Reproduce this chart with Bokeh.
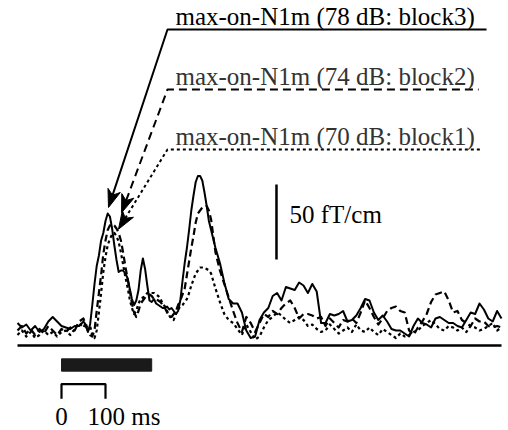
import math
from bokeh.plotting import figure
from bokeh.models import Range1d, Label
from bokeh.embed import file_html
from bokeh.resources import INLINE

# ---------------- data (time in ms, amplitude in fT/cm) ----------------
time_ms = list(range(-100, 51, 10)) + list(range(55, 351, 5)) + list(range(360, 1001, 10))

block3_78dB = [
    15, 12, 14, 10, 13, 9, 11, 16, 19, 16, 13, 12, 11, 13, 13, 16,
    14, 9, 14, 27, 41, 53, 60, 70, 75, 83,
    88, 86, 78, 67, 57, 49, 50, 50, 48, 45,
    38, 31, 27, 30, 37, 50, 58, 51, 40, 30,
    29, 31, 28, 27, 26, 25, 25, 26, 24, 25,
    23, 21, 23, 30, 43, 55, 65, 77, 90, 100,
    109, 113, 113, 110, 102, 93, 83, 77, 71, 65,
    55, 42, 31, 28, 28, 22, 10, 5, 6, 17,
    22, 25, 33, 35, 30, 39, 38, 37, 42, 40,
    35, 41, 36, 15, 15, 21, 20, 21, 23, 16,
    17, 20, 25, 31, 30, 22, 17, 20, 16, 11,
    10, 10, 8, 6, 13, 18, 15, 14, 12, 18,
    19, 17, 15, 15, 13, 12, 17, 22, 21, 28,
    24, 18, 16, 23, 18,
]

block2_74dB = [
    10, 13, 8, 11, 7, 11, 8, 13, 10, 7, 11, 9, 12, 10, 16, 18,
    13, 10, 7, 6, 10, 23, 35, 47, 61, 70,
    77, 80, 81, 80, 78, 75, 70, 62, 53, 45,
    37, 28, 22, 19, 23, 28, 30, 32, 34, 34,
    33, 31, 31, 30, 29, 27, 25, 22, 19, 19,
    21, 23, 27, 30, 34, 38, 47, 56, 65, 73,
    82, 88, 90, 92, 93, 93, 90, 84, 73, 62,
    50, 41, 32, 23, 15, 9, 19, 15, 9, 15,
    21, 19, 23, 21, 25, 28, 30, 25, 18, 21,
    21, 20, 18, 19, 13, 18, 15, 12, 17, 16,
    18, 15, 22, 30, 25, 19, 14, 18, 23, 25,
    26, 23, 22, 10, 7, 12, 16, 21, 29, 34,
    35, 36, 30, 22, 23, 17, 15, 13, 18, 16,
    16, 13, 12, 13, 12,
]

block1_70dB = [
    7, 10, 6, 9, 5, 7, 10, 7, 9, 6, 9, 10, 7, 11, 15, 12,
    15, 10, 13, 7, 5, 10, 22, 35, 49, 59,
    67, 71, 74, 75, 73, 69, 62, 54, 46, 39,
    31, 25, 21, 23, 28, 31, 32, 33, 35, 35,
    35, 35, 34, 33, 31, 28, 26, 23, 20, 18,
    17, 21, 24, 26, 27, 29, 31, 35, 40, 44,
    48, 50, 52, 52, 52, 51, 50, 48, 43, 38,
    29, 21, 17, 15, 11, 7, 14, 9, 4, 6,
    12, 17, 19, 22, 20, 17, 15, 17, 19, 17,
    13, 14, 11, 9, 10, 14, 11, 8, 10, 12,
    9, 14, 10, 9, 12, 9, 7, 11, 9, 7,
    5, 8, 6, 7, 9, 10, 13, 15, 17, 14,
    11, 10, 13, 12, 10, 12, 9, 13, 12, 10,
    11, 13, 15, 10, 12,
]

series_labels = ["max-on-N1m (78 dB: block3)",
                 "max-on-N1m (74 dB: block2)",
                 "max-on-N1m (70 dB: block1)"]
stimulus_ms = [0, 205]
amp_scale_fT = 50
time_scale_ms = 100

assert len(time_ms) == len(block3_78dB) == len(block2_74dB) == len(block1_70dB)

# ---------------- figure ----------------
W, H = 508, 430
XR = (-138.64, 1015.9)
YR = (-56.67, 230.0)
SX = W / (XR[1] - XR[0])   # px per ms
SY = H / (YR[1] - YR[0])   # px per fT/cm

p = figure(width=W, height=H, output_backend="svg", toolbar_location=None,
           x_range=Range1d(*XR), y_range=Range1d(*YR),
           x_axis_location=None, y_axis_location=None, min_border=0)
p.grid.visible = False
p.outline_line_color = None
p.background_fill_color = "white"
p.border_fill_color = "white"

FONT = "Liberation Serif"
FS = "25px"

# baseline
p.line(x=[time_ms[0], time_ms[-1]], y=[0, 0], line_color="black", line_width=2.5)

# waveforms
p.line(x=time_ms, y=block1_70dB, line_color="black", line_width=2.2, line_dash="3 3", line_join="round")
p.line(x=time_ms, y=block2_74dB, line_color="black", line_width=2.2, line_dash="7 4", line_join="round")
p.line(x=time_ms, y=block3_78dB, line_color="black", line_width=2.0, line_join="round")


def vee_head(x0, y0, x1, y1, length=18, half_w=6.5, notch=5):
    """Filled barbed arrow head at (x1, y1), pointing from (x0, y0); returns polygon + notch point."""
    dx, dy = (x1 - x0) * SX, (y1 - y0) * SY
    n = math.hypot(dx, dy)
    ux, uy = dx / n, dy / n
    px, py = -uy, ux
    pts_px = [(0, 0),
              (-length * ux + half_w * px, -length * uy + half_w * py),
              (-(length - notch) * ux, -(length - notch) * uy),
              (-length * ux - half_w * px, -length * uy - half_w * py)]
    xs = [x1 + a / SX for a, b in pts_px]
    ys = [y1 + b / SY for a, b in pts_px]
    return xs, ys, xs[2], ys[2]


# leader lines with arrows
styles = ["solid", "8 5", "3 3"]
text_colors = ["black", "#333333", "#333333"]
corner_amp = [210.7, 170.7, 130.7]
corner_t = 240.9
leader_end_t = [966, 948, 952]
tips = [(106.8, 92.0), (136.5, 88.5), (129.5, 77.5)]
label_amp = [219.0, 179.5, 139.5]
for i in range(3):
    hx, hy, nx, ny = vee_head(corner_t, corner_amp[i], tips[i][0], tips[i][1])
    p.line(x=[nx, corner_t, leader_end_t[i]], y=[ny, corner_amp[i], corner_amp[i]],
           line_color="black", line_width=2, line_dash=styles[i])
    p.patch(x=hx, y=hy, fill_color="black", line_color="black", line_width=1)
    p.add_layout(Label(x=259.1, y=label_amp[i], text=series_labels[i], text_font=FONT,
                       text_font_size=FS, text_color=text_colors[i], text_baseline="alphabetic"))

# amplitude scale bar
p.line(x=[488.6, 488.6], y=[57.3, 57.3 + amp_scale_fT], line_color="black", line_width=2.5)
p.add_layout(Label(x=518.2, y=87.0, text="50 fT/cm", text_font=FONT, text_font_size=FS,
                   text_color="black", text_baseline="alphabetic"))

# stimulus bar
p.quad(left=stimulus_ms[0], right=stimulus_ms[1], bottom=-17.1, top=-8.9,
       fill_color="#1a1a1a", line_color="#1a1a1a")

# time scale bracket
p.line(x=[0, 0, time_scale_ms, time_scale_ms], y=[-35.5, -25.7, -25.7, -35.5],
       line_color="black", line_width=2.2)
p.add_layout(Label(x=0, y=-47.5, text="0", text_font=FONT, text_font_size=FS,
                   text_color="black", text_align="center", text_baseline="alphabetic"))
p.add_layout(Label(x=59.1, y=-47.5, text="100 ms", text_font=FONT, text_font_size=FS,
                   text_color="black", text_baseline="alphabetic"))

open("out.html", "w").write(file_html(p, INLINE))
